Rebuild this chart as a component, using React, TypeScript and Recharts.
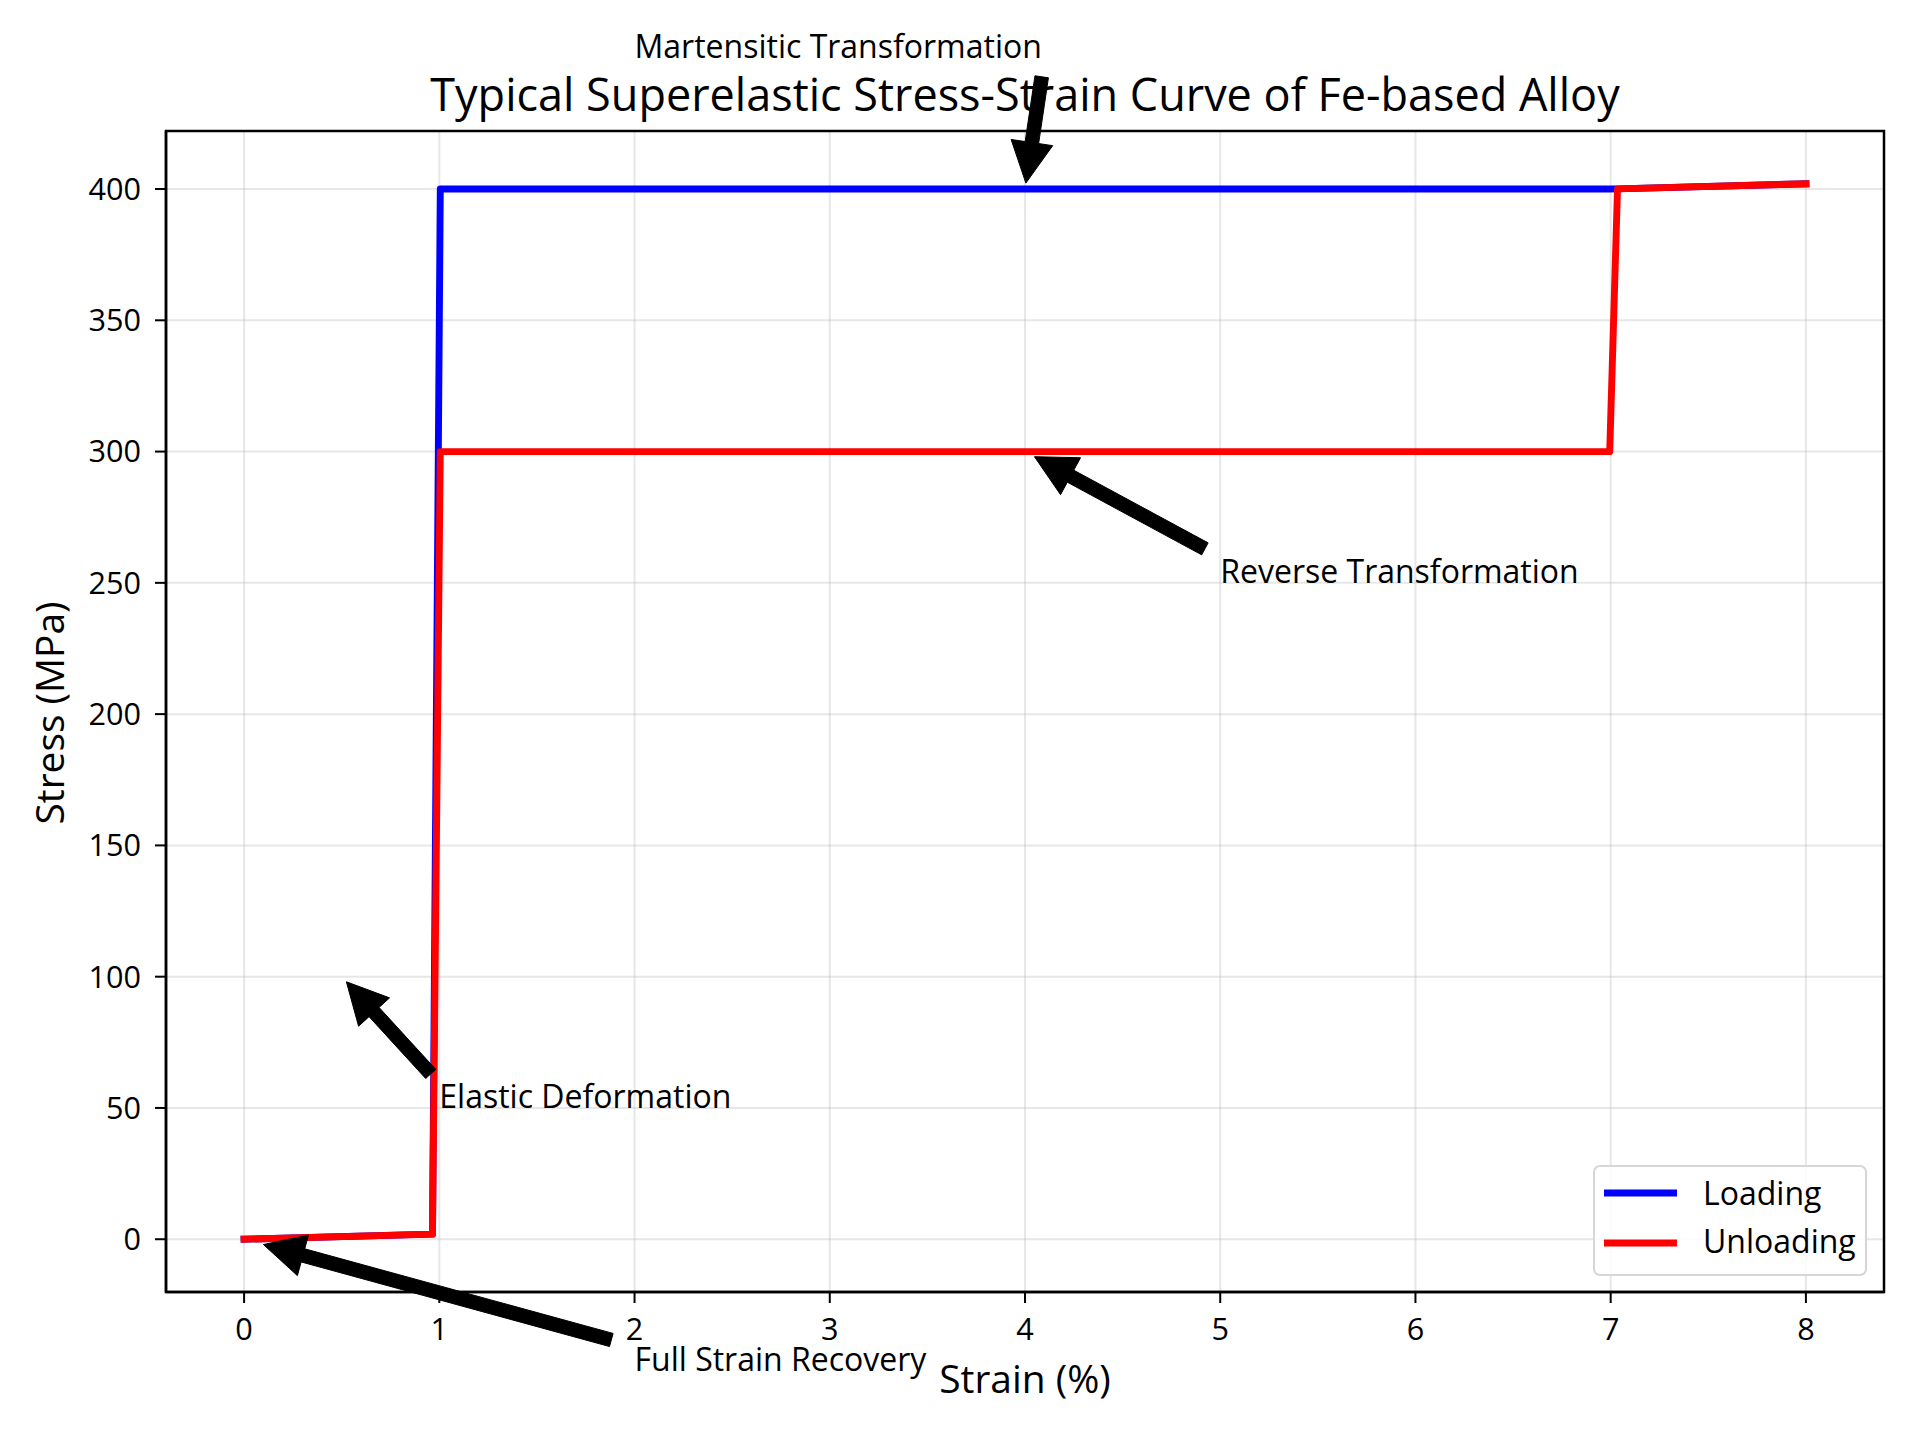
import React from 'react';
import {
  LineChart,
  Line,
  XAxis,
  YAxis,
  CartesianGrid,
  ReferenceLine,
  ReferenceDot,
  ReferenceArea,
  Legend,
} from 'recharts';

// curve vertices (strain %, stress MPa)
const loadingStrain = [0, 0.965, 1.005, 6.995, 7.035, 8.0];
const loadingStress = [0, 1.93, 400, 400, 400.07, 402];
const unloadingStrain = [0, 0.965, 1.005, 6.995, 7.035, 8.0];
const unloadingStress = [0, 1.93, 300, 300, 400.07, 402];

const seriesNames = ['Loading', 'Unloading'];
const seriesColors = ['#0000ff', '#ff0000'];

const xTicks = [0, 1, 2, 3, 4, 5, 6, 7, 8];
const yTicks = [0, 50, 100, 150, 200, 250, 300, 350, 400];
const xDomain = [-0.4, 8.4];
const yDomain = [-20.1, 422.1];

// annotations: text, arrow target, text anchor, arrow tail
const noteTexts = [
  'Martensitic Transformation',
  'Reverse Transformation',
  'Elastic Deformation',
  'Full Strain Recovery',
];
const noteTargetX = [4, 4, 0.5, 0];
const noteTargetY = [400, 300, 100, 0];
const noteTextX = [2, 5, 1, 2];
const noteTextY = [450, 250, 50, -50];
const noteTailX = [4.09, 4.97, 0.98, 1.98];
const noteTailY = [445, 261, 61, -40.4];

const FONT = '"Open Sans", "Noto Sans", sans-serif';

const loadingData = loadingStrain.map((s, i) => ({ strain: s, stress: loadingStress[i] }));
const unloadingData = unloadingStrain.map((s, i) => ({ strain: s, stress: unloadingStress[i] }));

function Arrow(props: any) {
  const { x1, y1, x2, y2 } = props;
  const dx = x2 - x1;
  const dy = y2 - y1;
  const len = Math.hypot(dx, dy);
  const ux = dx / len;
  const uy = dy / len;
  const px = -uy;
  const py = ux;
  // shrink 5% at both ends, like matplotlib's shrink=0.05
  const sx = x1 + ux * len * 0.05;
  const sy = y1 + uy * len * 0.05;
  const ex = x2 - ux * len * 0.05;
  const ey = y2 - uy * len * 0.05;
  const headLen = 41;
  const headHalf = 21;
  const shaftHalf = 6.8;
  const bx = ex - ux * headLen;
  const by = ey - uy * headLen;
  const pts = [
    [sx + px * shaftHalf, sy + py * shaftHalf],
    [bx + px * shaftHalf, by + py * shaftHalf],
    [bx + px * headHalf, by + py * headHalf],
    [ex, ey],
    [bx - px * headHalf, by - py * headHalf],
    [bx - px * shaftHalf, by - py * shaftHalf],
    [sx - px * shaftHalf, sy - py * shaftHalf],
  ];
  return (
    <polygon
      points={pts.map((p) => `${p[0]},${p[1]}`).join(' ')}
      fill="#000"
      stroke="#000"
      strokeWidth={1}
    />
  );
}

function LegendBox({ payload }: any) {
  const items = payload || [];
  return (
    <div
      style={{
        width: 274,
        height: 111,
        boxSizing: 'border-box',
        border: '2px solid #d6d6d6',
        borderRadius: 7,
        background: 'rgba(255,255,255,0.85)',
      }}
    >
      <svg width={270} height={107} style={{ display: 'block' }}>
        {items.map((it: any, i: number) => (
          <g key={it.value}>
            <line
              x1={9}
              x2={82}
              y1={26 + i * 50}
              y2={26 + i * 50}
              stroke={it.color}
              strokeWidth={6.9}
            />
            <text x={108} y={38 + i * 48} fontFamily={FONT} fontSize={32} fill="#000">
              {it.value}
            </text>
          </g>
        ))}
      </svg>
    </div>
  );
}

export default function App() {
  return (
    <div style={{ position: 'absolute', left: 0, top: 0, width: 1920, height: 1440, background: '#fff', fontFamily: FONT }}>
      <LineChart
        width={1920}
        height={1440}
        margin={{ top: 131, right: 36, bottom: 0, left: 0 }}
      >
        <CartesianGrid stroke="#b0b0b0" strokeOpacity={0.3} strokeWidth={2} />
        <XAxis
          dataKey="strain"
          type="number"
          domain={xDomain}
          ticks={xTicks}
          allowDataOverflow
          height={148}
          tickSize={11}
          tickMargin={15}
          stroke="#000"
          tickLine={{ stroke: '#000', strokeWidth: 2 }}
          axisLine={{ stroke: '#000', strokeWidth: 2.5 }}
          tick={{ fontSize: 30.6, fill: '#000', fontFamily: FONT }}
        />
        <YAxis
          dataKey="stress"
          type="number"
          domain={yDomain}
          ticks={yTicks}
          allowDataOverflow
          width={166}
          tickSize={11}
          tickMargin={14}
          stroke="#000"
          tickLine={{ stroke: '#000', strokeWidth: 2 }}
          axisLine={{ stroke: '#000', strokeWidth: 2.5 }}
          tick={{ fontSize: 30.6, fill: '#000', fontFamily: FONT }}
        />
        <ReferenceArea
          x1={xDomain[0]}
          x2={xDomain[1]}
          y1={yDomain[0]}
          y2={yDomain[1]}
          fill="none"
          stroke="#000"
          strokeWidth={2.5}
          ifOverflow="visible"
        />
        <Line
          data={loadingData}
          dataKey="stress"
          name={seriesNames[0]}
          stroke={seriesColors[0]}
          strokeWidth={6.9}
          strokeLinejoin="round"
          strokeLinecap="square"
          dot={false}
          activeDot={false}
          type="linear"
          isAnimationActive={false}
        />
        <Line
          data={unloadingData}
          dataKey="stress"
          name={seriesNames[1]}
          stroke={seriesColors[1]}
          strokeWidth={6.9}
          strokeLinejoin="round"
          strokeLinecap="square"
          dot={false}
          activeDot={false}
          type="linear"
          isAnimationActive={false}
        />
        {noteTexts.map((t, i) => (
          <ReferenceLine
            key={'arrow-' + t}
            segment={[
              { x: noteTailX[i], y: noteTailY[i] },
              { x: noteTargetX[i], y: noteTargetY[i] },
            ]}
            ifOverflow="visible"
            shape={(p: any) => <Arrow {...p} />}
          />
        ))}
        {noteTexts.map((t, i) => (
          <ReferenceDot
            key={'text-' + t}
            x={noteTextX[i]}
            y={noteTextY[i]}
            r={0}
            ifOverflow="visible"
            shape={(p: any) => (
              <text x={p.cx} y={p.cy} fontFamily={FONT} fontSize={32} fill="#000">
                {t}
              </text>
            )}
          />
        ))}
        <Legend
          layout="horizontal"
          verticalAlign="middle"
          align="center"
          wrapperStyle={{ left: 1593, top: 1165, width: 274, height: 111 }}
          content={(props: any) => <LegendBox {...props} />}
        />
      </LineChart>
      <svg
        width={1920}
        height={1440}
        style={{ position: 'absolute', left: 0, top: 0, pointerEvents: 'none' }}
      >
        <text x={1025} y={111} textAnchor="middle" fontFamily={FONT} fontSize={45} fill="#000">
          Typical Superelastic Stress-Strain Curve of Fe-based Alloy
        </text>
        <text x={1025} y={1393} textAnchor="middle" fontFamily={FONT} fontSize={38.9} fill="#000">
          Strain (%)
        </text>
        <text
          transform="translate(63.5, 713) rotate(-90)"
          textAnchor="middle"
          fontFamily={FONT}
          fontSize={38.9}
          fill="#000"
        >
          Stress (MPa)
        </text>
      </svg>
    </div>
  );
}
